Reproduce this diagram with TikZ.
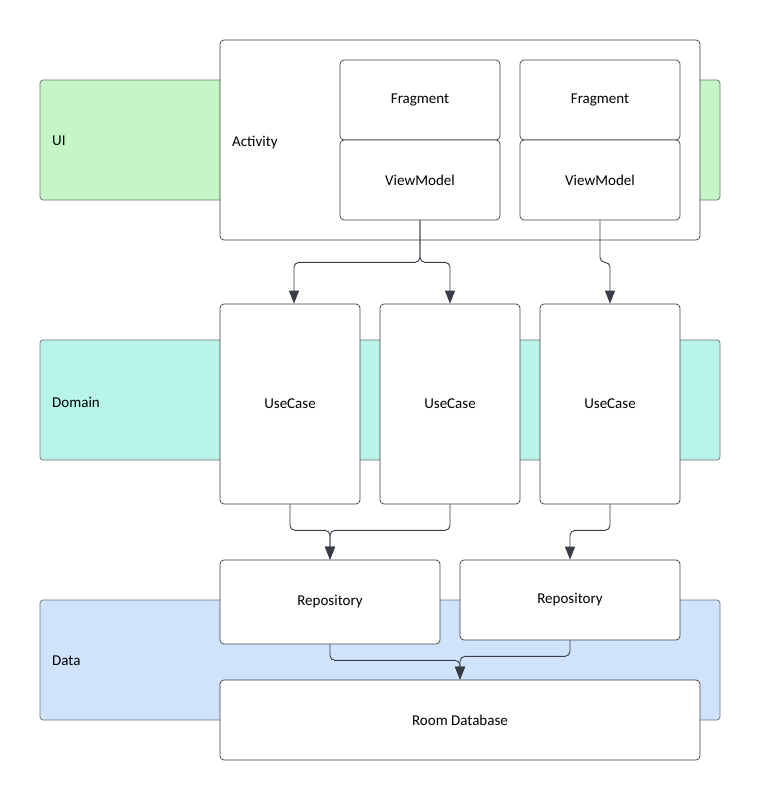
\documentclass[tikz,border=0pt]{standalone}
\usepackage{fontspec}
\setmainfont{Carlito}
\usetikzlibrary{arrows.meta}
\definecolor{uigreen}{RGB}{196,246,200}
\definecolor{domteal}{RGB}{184,244,232}
\definecolor{datablue}{RGB}{207,227,252}
\definecolor{edge}{RGB}{55,60,70}
\tikzset{
  band/.style = {draw=black!55, rounded corners=3pt, line width=0.7pt,
                 minimum width=680pt, minimum height=120pt, inner sep=0pt},
  box/.style  = {draw=black!75, fill=white, rounded corners=4pt, line width=0.7pt,
                 inner sep=0pt, font=\fontsize{15}{18}\selectfont},
  lbl/.style  = {anchor=west, inner sep=0pt, font=\fontsize{15}{18}\selectfont},
  arr/.style  = {draw=edge, line width=0.9pt, rounded corners=5pt,
                 -{Triangle[length=13pt,width=10pt]}}
}
\begin{document}
\begin{tikzpicture}[x=1pt,y=-1pt]
    \useasboundingbox[fill=white] (0,0) rectangle (760,800);
    % layers
    \node[band, fill=uigreen]  (ui)  at (380,140) {};
    \node[band, fill=domteal]  (dom) at (380,400) {};
    \node[band, fill=datablue] (dat) at (380,660) {};
    \node[lbl] (uitxt)  at (52,141) {UI};
    \node[lbl] (domtxt) at (52,402) {Domain};
    \node[lbl] (dattxt) at (52,661) {Data};
    % UI
    \node[box, minimum width=480pt, minimum height=200pt] (act) at (460,140) {};
    \node[lbl] (acttxt) at (232,143) {Activity};
    \node[box, minimum width=160pt, minimum height=80pt] (frag1) at (420,100) {Fragment};
    \node[box, minimum width=160pt, minimum height=80pt] (vm1)   at (420,180) {ViewModel};
    \node[box, minimum width=160pt, minimum height=80pt] (frag2) at (600,100) {Fragment};
    \node[box, minimum width=160pt, minimum height=80pt] (vm2)   at (600,180) {ViewModel};
    % Domain
    \node[box, minimum width=140pt, minimum height=200pt] (uc1) at (290,404) {UseCase};
    \node[box, minimum width=140pt, minimum height=200pt] (uc2) at (450,404) {UseCase};
    \node[box, minimum width=140pt, minimum height=200pt] (uc3) at (610,404) {UseCase};
    % Data
    \node[box, minimum width=220pt, minimum height=84pt] (repo1) at (330,602) {Repository};
    \node[box, minimum width=220pt, minimum height=80pt] (repo2) at (570,600) {Repository};
    \node[box, minimum width=480pt, minimum height=80pt] (room)  at (460,720) {Room Database};
    % connectors
    \draw[arr] (vm1.south) -- ++(0,42) -| ([xshift=4pt]uc1.north);
    \draw[arr] (vm1.south) -- ++(0,42) -| (uc2.north);
    \draw[arr] (vm2.south) -- ++(0,42) -| (uc3.north);
    \draw[arr] (uc1.south) -- ++(0,26) -| (repo1.north);
    \draw[arr] (uc2.south) -- ++(0,26) -| (repo1.north);
    \draw[arr] (uc3.south) -- ++(0,26) -| (repo2.north);
    \draw[arr] (repo1.south) -- ++(0,16) -| (room.north);
    \draw[arr] (repo2.south) -- ++(0,16) -| (room.north);
\end{tikzpicture}
\end{document}
